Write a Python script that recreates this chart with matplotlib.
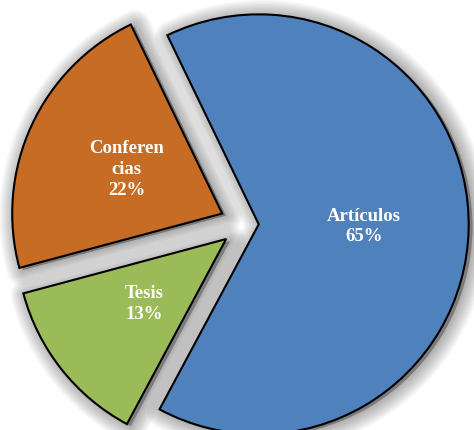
import matplotlib.pyplot as plt
from matplotlib.patches import Wedge

# Data
categories = ["Artículos", "Conferencias", "Tesis"]
display_names = ["Artículos", "Conferen\ncias", "Tesis"]
percentages = [65, 22, 13]
colors = ["#4F81BD", "#C66C24", "#9BBB59"]
explode = [0.065, 0.12, 0.115]

fig = plt.figure(figsize=(4.74, 4.30), dpi=100)
ax = fig.add_axes([0, 0, 1, 1])

labels_txt = [f"{n}\n{p}%" for n, p in zip(display_names, percentages)]
counter = iter(labels_txt)

wedges, texts, autotexts = ax.pie(
    percentages,
    colors=colors,
    explode=explode,
    startangle=-118.2,
    counterclock=True,
    radius=1.0,
    autopct=lambda pct: next(counter),
    pctdistance=0.5,
    wedgeprops=dict(edgecolor="black", linewidth=1.5, zorder=3),
    textprops=dict(color="white", fontsize=13.5, fontweight="bold",
                   family="Liberation Serif", linespacing=1.3),
)
for t in autotexts:
    t.set_zorder(5)

# soft drop shadow behind every slice
dx, dy = 0.018, -0.01
for w in wedges:
    cx, cy = w.center
    for lw in range(24, 0, -2):
        sh = Wedge((cx + dx, cy + dy), w.r, w.theta1, w.theta2,
                   facecolor=(0, 0, 0, 0.028), edgecolor=(0, 0, 0, 0.028),
                   linewidth=lw, joinstyle="round", zorder=1)
        ax.add_patch(sh)

ax.set_xlim(-1.167, 1.090)
ax.set_ylim(-0.981, 1.067)
ax.set_aspect("equal")
ax.axis("off")

fig.savefig("out.png", dpi=100)
